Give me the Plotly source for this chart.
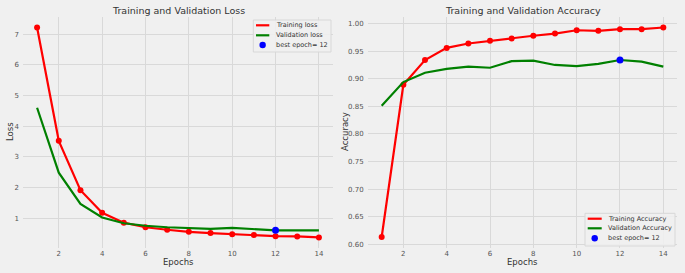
import plotly.graph_objects as go

epochs = list(range(1, 15))
train_loss = [7.22, 3.52, 1.91, 1.17, 0.85, 0.70, 0.62, 0.55, 0.51, 0.47, 0.45, 0.41, 0.40, 0.37]
val_loss = [4.60, 2.48, 1.46, 1.02, 0.83, 0.75, 0.70, 0.67, 0.65, 0.68, 0.63, 0.60, 0.60, 0.60]
train_acc = [0.613, 0.889, 0.934, 0.956, 0.964, 0.969, 0.973, 0.978, 0.982, 0.988, 0.987, 0.990, 0.990, 0.993]
val_acc = [0.851, 0.894, 0.911, 0.918, 0.922, 0.920, 0.932, 0.933, 0.925, 0.923, 0.927, 0.934, 0.931, 0.922]
best_epoch = 12
loss_yticks = [1, 2, 3, 4, 5, 6, 7]
acc_yticks = [0.60, 0.65, 0.70, 0.75, 0.80, 0.85, 0.90, 0.95, 1.00]
xticks = [2, 4, 6, 8, 10, 12, 14]
loss_legend = ["Training loss", "Validation loss", f"best epoch= {best_epoch}"]
acc_legend = ["Training Accuracy", "Validation Accuracy", f"best epoch= {best_epoch}"]

W, H = 685, 273
BG = "#f0f0f0"
GRID = "#d9d9d9"
FONT = "DejaVu Sans"
RED, GREEN, BLUE = "#ff0000", "#008000", "#0000ff"
TXT = "#333333"


def px_x(p):
    return p / W


def px_y(p):
    return 1 - p / H


fig = go.Figure()

# Loss panel
fig.add_trace(go.Scatter(x=epochs, y=train_loss, mode="lines", line=dict(color=RED, width=2.2),
                         name=loss_legend[0], xaxis="x", yaxis="y"))
fig.add_trace(go.Scatter(x=epochs, y=train_loss, mode="markers", marker=dict(color=RED, size=6),
                         xaxis="x", yaxis="y", hoverinfo="skip"))
fig.add_trace(go.Scatter(x=epochs, y=val_loss, mode="lines", line=dict(color=GREEN, width=2.2),
                         name=loss_legend[1], xaxis="x", yaxis="y"))
fig.add_trace(go.Scatter(x=[best_epoch], y=[val_loss[best_epoch - 1]], mode="markers",
                         marker=dict(color=BLUE, size=7), name=loss_legend[2],
                         xaxis="x", yaxis="y"))

# Accuracy panel
fig.add_trace(go.Scatter(x=epochs, y=train_acc, mode="lines", line=dict(color=RED, width=2.2),
                         name=acc_legend[0], xaxis="x2", yaxis="y2"))
fig.add_trace(go.Scatter(x=epochs, y=train_acc, mode="markers", marker=dict(color=RED, size=6),
                         xaxis="x2", yaxis="y2", hoverinfo="skip"))
fig.add_trace(go.Scatter(x=epochs, y=val_acc, mode="lines", line=dict(color=GREEN, width=2.2),
                         name=acc_legend[1], xaxis="x2", yaxis="y2"))
fig.add_trace(go.Scatter(x=[best_epoch], y=[val_acc[best_epoch - 1]], mode="markers",
                         marker=dict(color=BLUE, size=7), name=acc_legend[2],
                         xaxis="x2", yaxis="y2"))

tickfont = dict(family=FONT, size=7, color="#555555")
common_x = dict(range=[0.35, 14.65], tickvals=xticks, showgrid=True, gridcolor=GRID, gridwidth=1,
                zeroline=False, showline=False, ticks="", tickfont=tickfont, ticklabelstandoff=0)
common_y = dict(showgrid=True, gridcolor=GRID, gridwidth=1, zeroline=False, showline=False,
                ticks="", tickfont=tickfont, ticklabelstandoff=3)

ydom = [px_y(247.5), px_y(17)]
fig.update_layout(
    width=W, height=H, margin=dict(l=0, r=0, t=0, b=0),
    paper_bgcolor=BG, plot_bgcolor=BG,
    font=dict(family=FONT, color=TXT),
    showlegend=False,
    xaxis=dict(domain=[px_x(23), px_x(333)], anchor="y", **common_x),
    yaxis=dict(domain=ydom, anchor="x", range=[0.04, 7.56], tickvals=loss_yticks, **common_y),
    xaxis2=dict(domain=[px_x(367.6), px_x(677.4)], anchor="y2", **common_x),
    yaxis2=dict(domain=ydom, anchor="x2", range=[0.594, 1.012], tickvals=acc_yticks,
                tickformat=".2f", **common_y),
)

annots = [
    dict(text="Training and Validation Loss", x=178, y=11, size=9.5),
    dict(text="Training and Validation Accuracy", x=522.5, y=11, size=9.5),
    dict(text="Epochs", x=178, y=262, size=8.5),
    dict(text="Epochs", x=522.5, y=262, size=8.5),
]
for a in annots:
    fig.add_annotation(text=a["text"], x=px_x(a["x"]), y=px_y(a["y"]), xref="paper", yref="paper",
                       showarrow=False, xanchor="center", yanchor="middle",
                       font=dict(family=FONT, size=a["size"], color=TXT))
for text, xp in [("Loss", 10), ("Accuracy", 345)]:
    fig.add_annotation(text=text, x=px_x(xp), y=px_y(132), xref="paper", yref="paper",
                       showarrow=False, xanchor="center", yanchor="middle", textangle=-90,
                       font=dict(family=FONT, size=8.5, color=TXT))


# Legends (drawn in paper space to match compact matplotlib legend)
def add_legend(box, rows, sample_x0, sample_x1, text_x, labels):
    x0, y0, x1, y1 = box
    fig.add_shape(type="rect", xref="paper", yref="paper",
                  x0=px_x(x0), x1=px_x(x1), y0=px_y(y1), y1=px_y(y0),
                  fillcolor="rgba(240,240,240,0.85)", line=dict(color="#d8d8d8", width=1))
    colors = [RED, GREEN]
    for i in range(2):
        fig.add_shape(type="line", xref="paper", yref="paper",
                      x0=px_x(sample_x0), x1=px_x(sample_x1), y0=px_y(rows[i]), y1=px_y(rows[i]),
                      line=dict(color=colors[i], width=2.2))
    cx = (sample_x0 + sample_x1) / 2
    r = 3.2
    fig.add_shape(type="circle", xref="paper", yref="paper",
                  x0=px_x(cx - r), x1=px_x(cx + r), y0=px_y(rows[2] + r), y1=px_y(rows[2] - r),
                  fillcolor=BLUE, line=dict(color=BLUE, width=0))
    for i, lab in enumerate(labels):
        fig.add_annotation(text=lab, x=px_x(text_x), y=px_y(rows[i]), xref="paper", yref="paper",
                           showarrow=False, xanchor="left", yanchor="middle",
                           font=dict(family=FONT, size=6.5, color=TXT))


add_legend((253.3, 20, 331, 52), [25.3, 35.3, 45.0], 256, 269.3, 274, loss_legend)
add_legend((585, 213.3, 675, 246), [218.7, 228.3, 238.3], 587.7, 601.7, 606, acc_legend)

fig.write_html("out.html", config={"displayModeBar": False},
               post_script="document.body.style.margin='0';document.body.style.padding='0';")
